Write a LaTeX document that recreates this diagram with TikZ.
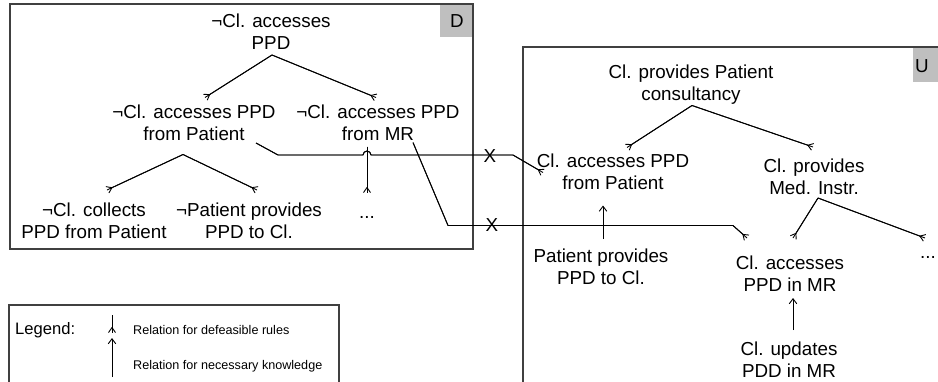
\documentclass[tikz,border=0pt]{standalone}
\usepackage{fontspec}
\setmainfont{Liberation Sans}
\usetikzlibrary{arrows.meta,calc}
\begin{document}
\begin{tikzpicture}[x=1pt,y=-1pt,
  txt/.style={align=center, inner sep=0pt, font=\fontsize{18.8}{22}\selectfont},
  small/.style={inner sep=0pt, anchor=west, font=\fontsize{12.6}{15}\selectfont},
  frame/.style={draw=black!75, line width=1.2pt},
  tagfill/.style={fill=black!25},
  link/.style={line width=0.9pt},
  defe/.style={link, -{Straight Barb[reversed,length=5pt,width=7pt,line width=0.9pt]},
    postaction={draw, -}},
  need/.style={link, -{Straight Barb[length=5pt,width=7.5pt,line width=0.9pt]}},
]
\useasboundingbox (0,0) rectangle (938,381);
\clip (0,0) rectangle (938,381);

% ---- frames and their tags
\fill[tagfill] (440,4) rectangle (473,37);
\draw[frame] (10,4) rectangle (473,249);
\node[txt] (Dtag) at (457,21) {D};

\fill[tagfill] (913,47) rectangle (950,82);
\draw[frame] (523,47) rectangle (960,400);
\node[txt] (Utag) at (922,66) {U};

\draw[frame] (9,305) rectangle (339,400);

% ---- negated goal tree
\node[txt] (rD) at (271,32) {¬Cl. accesses\\PPD};
\node[txt] (dA) at (194,122.5) {¬Cl. accesses PPD\\from Patient};
\node[txt] (dB) at (378,122.5) {¬Cl. accesses PPD\\from MR};
\node[txt] (dC) at (94,221) {¬Cl. collects\\PPD from Patient};
\node[txt] (dE) at (249,221) {¬Patient provides\\PPD to Cl.};
\node[txt, anchor=base] (dDots) at (367,218) {...};

\draw[defe] ($(rD.center)+(1,23)$) -- ($(dA.center)+(11,-25)$);
\draw[defe] ($(rD.center)+(1,23)$) -- ($(dB.center)+(-2,-25)$);
\draw[defe] ($(dA.center)+(-11,32)$) -- ($(dC.center)+(13,-31)$);
\draw[defe] ($(dA.center)+(-11,32)$) -- ($(dE.center)+(8,-31)$);
\draw[defe] ($(dB.center)+(-11,24)$) -- ($(dDots.base)+(0,-25)$);

% ---- goal tree
\node[txt] (rU) at (691,84.5) {Cl. provides Patient\\consultancy};
\node[txt] (uA) at (613,171.5) {Cl. accesses PPD\\from Patient};
\node[txt] (uB) at (814,177) {Cl. provides\\Med. Instr.};
\node[txt] (uC) at (601,267) {Patient provides\\PPD to Cl.};
\node[txt] (uD) at (790,274) {Cl. accesses\\PPD in MR};
\node[txt, anchor=base] (uDots) at (928,258) {...};
\node[txt] (uE) at (789,360) {Cl. updates\\PDD in MR};

\draw[defe] ($(rU.center)+(1,21)$) -- ($(uA.center)+(14,-24)$);
\draw[defe] ($(rU.center)+(1,21)$) -- ($(uB.center)+(-1,-30)$);
\draw[defe] ($(uB.center)+(4,21)$) -- ($(uD.center)+(3,-36)$);
\draw[defe] ($(uB.center)+(4,21)$) -- ($(uDots.base)+(-3,-20)$);
\draw[need] ($(uC.center)+(2,-28)$) -- ($(uA.center)+(-10,34)$);
\draw[need] ($(uE.center)+(4,-30)$) -- ($(uD.center)+(3,24)$);

% ---- links between the two trees, each cut by an X
\draw[defe] ($(dA.center)+(62,20.5)$) -- ++(22,12) -- ++(85,0)
  arc[start angle=180, end angle=360, radius=4] -- ++(142,0)
  -- ($(uA.center)+(-70,1)$);
\draw[defe] ($(dB.center)+(35,20)$) -- ++(35,83) -- ++(285,0)
  -- ($(uD.center)+(-43,-36)$);
\node[txt] (xA) at (490,156) {X};
\node[txt] (xB) at (492,225) {X};

% ---- legend
\node[inner sep=0pt, anchor=west, font=\fontsize{16.6}{19}\selectfont] (leg) at (15,330) {Legend:};
\coordinate (l1a) at (112,315);
\coordinate (l1b) at (112,333);
\coordinate (l2a) at (112,377);
\coordinate (l2b) at (112,338);
\draw[defe] (l1a) -- (l1b);
\draw[need] (l2a) -- (l2b);
\node[small] (legA) at (133,330) {Relation for defeasible rules};
\node[small] (legB) at (133,366) {Relation for necessary knowledge};
\end{tikzpicture}
\end{document}
